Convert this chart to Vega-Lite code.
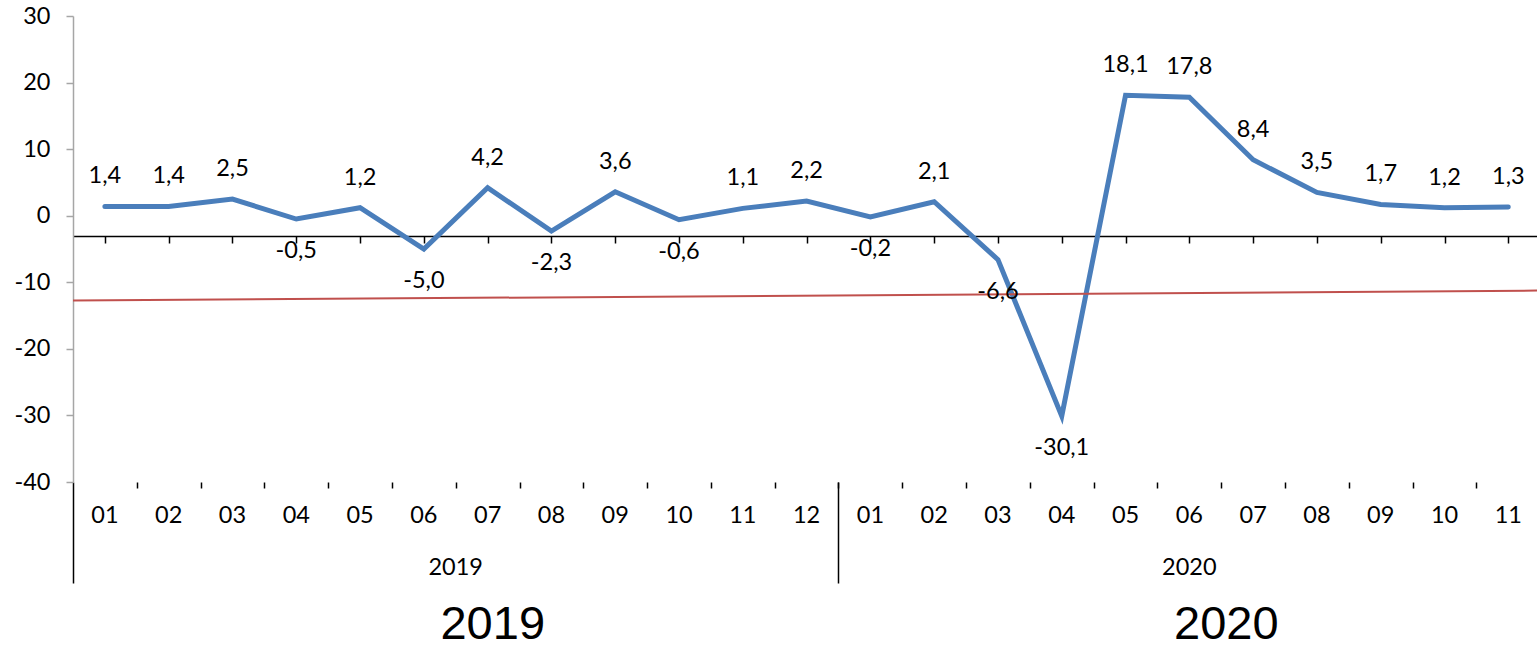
{
  "$schema": "https://vega.github.io/schema/vega-lite/v6.json",
  "width": 1464,
  "height": 466,
  "autosize": "none",
  "padding": {"left": 73, "top": 16, "right": 0, "bottom": 167},
  "background": "white",
  "config": {
    "view": {"stroke": null},
    "font": "Lato",
    "locale": {"number": {"decimal": ",", "thousands": " ", "grouping": [3], "currency": ["", ""], "minus": "-"}},
    "axis": {"grid": false, "title": null}
  },
  "datasets": {
    "series": [
      {"i": 0, "year": "2019", "m": "01", "v": 1.4},
      {"i": 1, "year": "2019", "m": "02", "v": 1.4},
      {"i": 2, "year": "2019", "m": "03", "v": 2.5},
      {"i": 3, "year": "2019", "m": "04", "v": -0.5},
      {"i": 4, "year": "2019", "m": "05", "v": 1.2},
      {"i": 5, "year": "2019", "m": "06", "v": -5.0},
      {"i": 6, "year": "2019", "m": "07", "v": 4.2},
      {"i": 7, "year": "2019", "m": "08", "v": -2.3},
      {"i": 8, "year": "2019", "m": "09", "v": 3.6},
      {"i": 9, "year": "2019", "m": "10", "v": -0.6},
      {"i": 10, "year": "2019", "m": "11", "v": 1.1},
      {"i": 11, "year": "2019", "m": "12", "v": 2.2},
      {"i": 12, "year": "2020", "m": "01", "v": -0.2},
      {"i": 13, "year": "2020", "m": "02", "v": 2.1},
      {"i": 14, "year": "2020", "m": "03", "v": -6.6},
      {"i": 15, "year": "2020", "m": "04", "v": -30.1},
      {"i": 16, "year": "2020", "m": "05", "v": 18.1},
      {"i": 17, "year": "2020", "m": "06", "v": 17.8},
      {"i": 18, "year": "2020", "m": "07", "v": 8.4},
      {"i": 19, "year": "2020", "m": "08", "v": 3.5},
      {"i": 20, "year": "2020", "m": "09", "v": 1.7},
      {"i": 21, "year": "2020", "m": "10", "v": 1.2},
      {"i": 22, "year": "2020", "m": "11", "v": 1.3}
    ],
    "trend": [
      {"i": -0.5, "v": -12.75},
      {"i": 22.45, "v": -11.25}
    ]
  },
  "resolve": {"axis": {"x": "independent", "y": "independent"}},
  "layer": [
    {
      "data": {"name": "series"},
      "mark": {"type": "line", "color": "#4a7ebb", "strokeWidth": 5, "strokeCap": "round"},
      "encoding": {
        "x": {"field": "i", "type": "quantitative",
              "scale": {"domain": [-0.5, 22.45], "nice": false, "zero": false},
              "axis": {"orient": "bottom", "offset": -246, "values": [0,1,2,3,4,5,6,7,8,9,10,11,12,13,14,15,16,17,18,19,20,21,22],
                       "labels": false, "domainColor": "black", "domainWidth": 1.5, "tickColor": "black", "tickWidth": 1.5, "tickSize": 7}},
        "y": {"field": "v", "type": "quantitative",
              "scale": {"domain": [-40, 30], "nice": false, "zero": false},
              "axis": {"orient": "left", "values": [-40,-30,-20,-10,0,10,20,30], "format": "d",
                       "domain": true, "ticks": true, "labels": true,
                       "domainColor": "#a6a6a6", "domainWidth": 1.5, "tickColor": "#a6a6a6", "tickWidth": 1.5, "tickSize": 7,
                       "labelFont": "Lato", "labelFontSize": 23.5, "labelColor": "black", "labelPadding": 16}}
      }
    },
    {
      "data": {"name": "trend"},
      "mark": {"type": "line", "color": "#c0504d", "strokeWidth": 2},
      "encoding": {
        "x": {"field": "i", "type": "quantitative",
              "scale": {"domain": [-0.5, 22.45], "nice": false, "zero": false},
              "axis": {"orient": "bottom", "values": [0.5,1.5,2.5,3.5,4.5,5.5,6.5,7.5,8.5,9.5,10.5,11.5,12.5,13.5,14.5,15.5,16.5,17.5,18.5,19.5,20.5,21.5],
                       "labels": false, "domain": false, "tickColor": "black", "tickWidth": 1.5, "tickSize": 6}},
        "y": {"field": "v", "type": "quantitative", "scale": {"domain": [-40, 30], "nice": false, "zero": false}, "axis": null}
      }
    },
    {
      "data": {"name": "series"},
      "mark": {"type": "text", "fontSize": 23.5, "baseline": "middle", "align": "center", "color": "black"},
      "encoding": {
        "x": {"field": "i", "type": "quantitative",
              "scale": {"domain": [-0.5, 22.45], "nice": false, "zero": false},
              "axis": {"orient": "bottom", "values": [-0.5, 11.5], "labels": false, "domain": false,
                       "tickColor": "black", "tickWidth": 1.5, "tickSize": 101}},
        "y": {"datum": -45.1, "type": "quantitative", "scale": {"domain": [-40, 30], "nice": false, "zero": false}, "axis": null},
        "text": {"field": "m", "type": "nominal"}
      }
    },
    {
      "data": {"name": "series"},
      "mark": {"type": "text", "fontSize": 23.5, "baseline": "middle", "align": "center", "color": "black"},
      "encoding": {
        "x": {"aggregate": "mean", "field": "i", "type": "quantitative",
              "scale": {"domain": [-0.5, 22.45], "nice": false, "zero": false}, "axis": null},
        "y": {"datum": -52.9, "type": "quantitative", "scale": {"domain": [-40, 30], "nice": false, "zero": false}, "axis": null},
        "text": {"field": "year", "type": "nominal"}
      }
    },
    {
      "data": {"name": "series"},
      "mark": {"type": "text", "font": "Liberation Sans", "fontSize": 47, "baseline": "middle", "align": "center", "dx": 37, "color": "black"},
      "encoding": {
        "x": {"aggregate": "mean", "field": "i", "type": "quantitative",
              "scale": {"domain": [-0.5, 22.45], "nice": false, "zero": false}, "axis": null},
        "y": {"datum": -61.5, "type": "quantitative", "scale": {"domain": [-40, 30], "nice": false, "zero": false}, "axis": null},
        "text": {"field": "year", "type": "nominal"}
      }
    },
    {
      "data": {"name": "series"},
      "transform": [{"filter": "datum.v >= 0"}],
      "mark": {"type": "text", "fontSize": 23.5, "baseline": "middle", "align": "center", "dy": -30, "color": "black"},
      "encoding": {
        "x": {"field": "i", "type": "quantitative",
              "scale": {"domain": [-0.5, 22.45], "nice": false, "zero": false}, "axis": null},
        "y": {"field": "v", "type": "quantitative", "scale": {"domain": [-40, 30], "nice": false, "zero": false}, "axis": null},
        "text": {"field": "v", "type": "quantitative", "format": ".1f"}
      }
    },
    {
      "data": {"name": "series"},
      "transform": [{"filter": "datum.v < 0"}],
      "mark": {"type": "text", "fontSize": 23.5, "baseline": "middle", "align": "center", "dy": 32, "color": "black"},
      "encoding": {
        "x": {"field": "i", "type": "quantitative",
              "scale": {"domain": [-0.5, 22.45], "nice": false, "zero": false}, "axis": null},
        "y": {"field": "v", "type": "quantitative", "scale": {"domain": [-40, 30], "nice": false, "zero": false}, "axis": null},
        "text": {"field": "v", "type": "quantitative", "format": ".1f"}
      }
    }
  ]
}
